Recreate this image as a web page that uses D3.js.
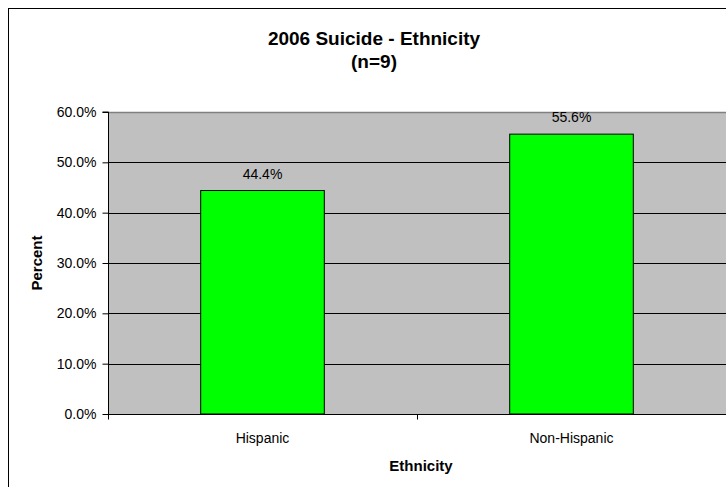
<!DOCTYPE html>
<html><head><meta charset="utf-8">
<script src="https://cdn.jsdelivr.net/npm/d3@7"></script>
<style>body{margin:0;background:#fff}svg{display:block}</style>
</head><body>
<svg id="chart" width="726" height="487"></svg>
<script>
const categories = ["Hispanic", "Non-Hispanic"];
const values = [44.4, 55.6];
const valueLabels = ["44.4%", "55.6%"];
const yTicks = [0, 10, 20, 30, 40, 50, 60];
const titleLines = ["2006 Suicide - Ethnicity", "(n=9)"];

const svg = d3.select("#chart");
const W = 726, H = 487;
const m = {left: 108, top: 112, right: 726, bottom: 414};
const font = "Arial, 'Liberation Sans', sans-serif";

// outer chart border
svg.append("rect").attr("x", 8.5).attr("y", 8.5).attr("width", 740).attr("height", 500)
  .attr("fill", "#fff").attr("stroke", "#000").attr("stroke-width", 1);

const x = d3.scaleBand().domain(categories).range([m.left, m.right]).paddingInner(0.6).paddingOuter(0.3);
const xb = d3.scaleBand().domain(categories).range([m.left, m.right]).padding(0);
const y = d3.scaleLinear().domain([0, 60]).range([m.bottom, m.top]);

// plot background
svg.append("rect").attr("x", m.left).attr("y", m.top).attr("width", m.right - m.left).attr("height", m.bottom - m.top)
  .attr("fill", "#C0C0C0");
svg.append("line").attr("x1", m.left).attr("x2", m.right).attr("y1", m.top + 0.5).attr("y2", m.top + 0.5)
  .attr("stroke", "#808080").attr("stroke-width", 1.5);

// gridlines
svg.append("g").selectAll("line").data(yTicks.filter(d => d > 0 && d < 60)).join("line")
  .attr("x1", m.left).attr("x2", m.right)
  .attr("y1", d => Math.round(y(d)) + 0.5).attr("y2", d => Math.round(y(d)) + 0.5)
  .attr("stroke", "#000").attr("stroke-width", 1);

// bars
svg.append("g").selectAll("rect").data(values).join("rect")
  .attr("x", (d, i) => x(categories[i])).attr("width", x.bandwidth())
  .attr("y", d => y(d)).attr("height", d => y(0) - y(d))
  .attr("fill", "#00FF00").attr("stroke", "#000").attr("stroke-width", 1);

// value labels
svg.append("g").selectAll("text").data(values).join("text")
  .attr("x", (d, i) => x(categories[i]) + x.bandwidth() / 2)
  .attr("y", d => y(d) - 12)
  .attr("text-anchor", "middle").attr("font-family", font).attr("font-size", 14).attr("fill", "#000")
  .text((d, i) => valueLabels[i]);

// y axis
const yAxis = d3.axisLeft(y).tickValues(yTicks).tickSize(6).tickPadding(6).tickFormat(d => d3.format(".1f")(d) + "%");
const gy = svg.append("g").attr("transform", `translate(${m.left + 0.5},0)`).call(yAxis);
gy.select(".domain").attr("stroke", "#000").attr("d", `M-6,${m.top}H0V${m.bottom}`);
gy.selectAll("text").attr("font-family", font).attr("font-size", 14).attr("fill", "#000");

// x axis
const gx = svg.append("g").attr("transform", `translate(0,${m.bottom + 0.5})`);
gx.append("line").attr("x1", m.left).attr("x2", m.right).attr("stroke", "#000");
gx.selectAll(".tk").data([...categories.map(c => xb(c)), m.right]).join("line").attr("class", "tk")
  .attr("x1", d => Math.round(d) + 0.5).attr("x2", d => Math.round(d) + 0.5).attr("y1", 0).attr("y2", 5).attr("stroke", "#000");
gx.selectAll("text").data(categories).join("text")
  .attr("x", d => xb(d) + xb.bandwidth() / 2).attr("y", 28)
  .attr("text-anchor", "middle").attr("font-family", font).attr("font-size", 14).attr("fill", "#000")
  .text(d => d);

// axis titles
svg.append("text").attr("x", (m.left + m.right) / 2 + 4).attr("y", 471)
  .attr("text-anchor", "middle").attr("font-family", font).attr("font-size", 15).attr("font-weight", "bold")
  .text("Ethnicity");
svg.append("text").attr("transform", `translate(42,${(m.top + m.bottom) / 2}) rotate(-90)`)
  .attr("text-anchor", "middle").attr("font-family", font).attr("font-size", 15).attr("font-weight", "bold")
  .text("Percent");

// title
svg.append("g").selectAll("text").data(titleLines).join("text")
  .attr("x", 374).attr("y", (d, i) => 45 + i * 23)
  .attr("text-anchor", "middle").attr("font-family", font).attr("font-size", 19).attr("font-weight", "bold")
  .text(d => d);
</script>
</body></html>
